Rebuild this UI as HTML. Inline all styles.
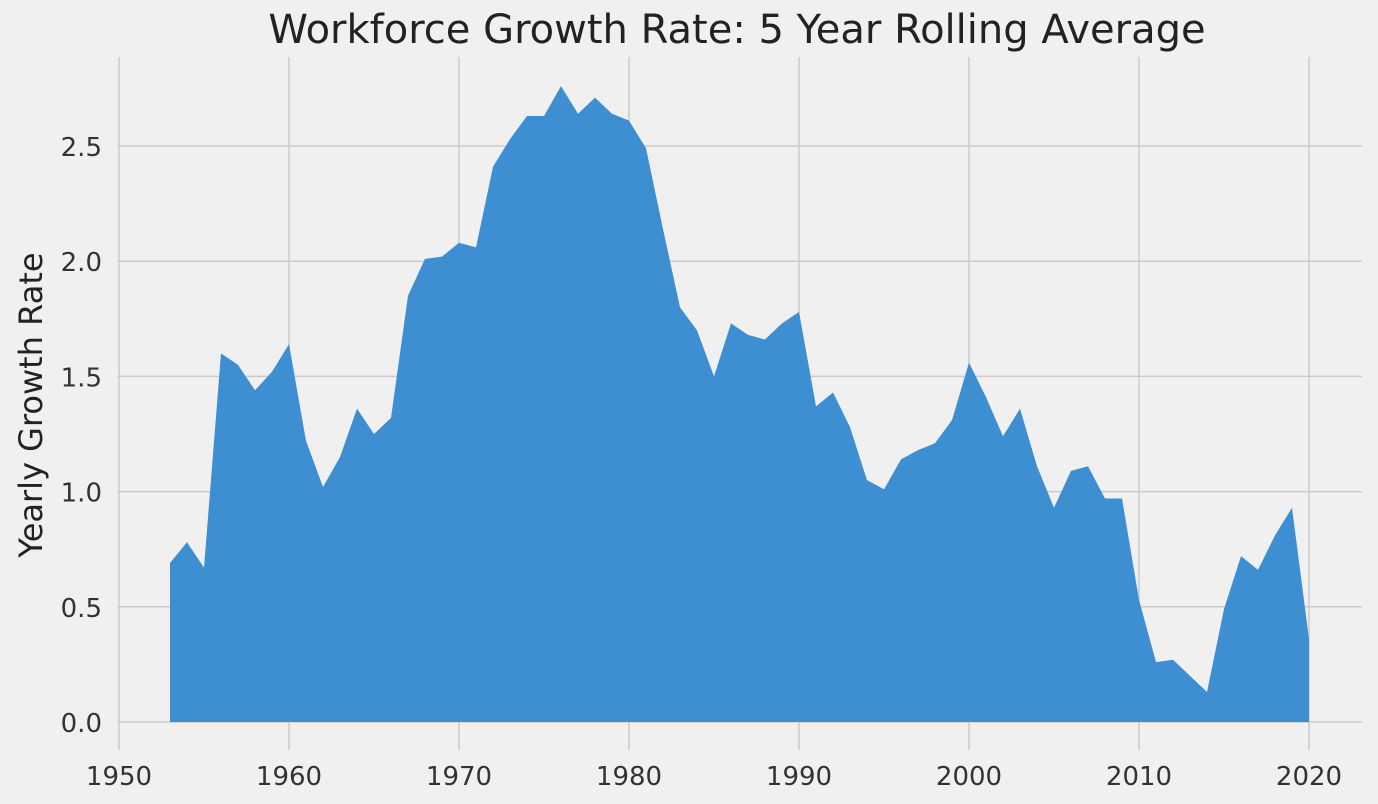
<!DOCTYPE html>
<html><head><meta charset="utf-8"><style>
html,body{margin:0;padding:0;background:#f0f0f0;}
svg{display:block;font-family:"DejaVu Sans","Liberation Sans",sans-serif;}
</style></head><body>
<svg id="chart" width="1378" height="804" viewBox="0 0 1378 804">
<rect width="1378" height="804" fill="#f0f0f0"/>
<g id="grid"></g>
<g id="area"></g>
<g id="xticks"></g>
<g id="yticks"></g>
<text x="737" y="43" text-anchor="middle" font-size="40" fill="#222">Workforce Growth Rate: 5 Year Rolling Average</text>
<text transform="translate(42,405) rotate(-90)" text-anchor="middle" font-size="32" fill="#222">Yearly Growth Rate</text>
</svg>
<script>
const years = [];
for (let y = 1953; y <= 2020; y++) years.push(y);
const values = [0.69,0.78,0.67,1.60,1.55,1.44,1.52,1.64,1.22,1.02,1.15,1.36,1.25,1.32,1.85,2.01,2.02,2.08,2.06,2.41,2.53,2.63,2.63,2.76,2.64,2.71,2.64,2.61,2.49,2.14,1.80,1.70,1.50,1.73,1.68,1.66,1.73,1.78,1.37,1.43,1.28,1.05,1.01,1.14,1.18,1.21,1.31,1.56,1.41,1.24,1.36,1.11,0.93,1.09,1.11,0.97,0.97,0.53,0.26,0.27,0.20,0.13,0.49,0.72,0.66,0.81,0.93,0.36];
const xTicks = [1950,1960,1970,1980,1990,2000,2010,2020];
const yTicks = [0.0,0.5,1.0,1.5,2.0,2.5];

const NS = "http://www.w3.org/2000/svg";
const X = v => 119 + (v - 1950) * (1309 - 119) / 70;
const Y = v => 722 - v * (722 - 146) / 2.5;
const L = 117, R = 1362, T = 57, B = 750;
function mk(tag, attrs, parent) {
  const e = document.createElementNS(NS, tag);
  for (const k in attrs) e.setAttribute(k, attrs[k]);
  parent.appendChild(e);
  return e;
}
const grid = document.getElementById('grid');
const xg = document.getElementById('xticks');
const yg = document.getElementById('yticks');
xTicks.forEach(t => {
  const l = mk('line', {x1: X(t), x2: X(t), y1: T, y2: B, stroke: '#cbcbcb', 'stroke-width': 1.5}, grid);
  
  
  const tx = mk('text', {x: X(t), y: 785, 'text-anchor': 'middle', 'font-size': 26, fill: '#333'}, xg);
  tx.textContent = t;
  
  
});
yTicks.forEach(t => {
  const l = mk('line', {x1: L, x2: R, y1: Y(t), y2: Y(t), stroke: '#cbcbcb', 'stroke-width': 1.5}, grid);
  
  
  const tx = mk('text', {x: 102, y: Y(t) + 10, 'text-anchor': 'end', 'font-size': 26, fill: '#333'}, yg);
  tx.textContent = t.toFixed(1);
  
  
});
let d = 'M' + X(years[0]) + ',' + Y(0);
years.forEach((yr, i) => { d += ' L' + X(yr) + ',' + Y(values[i]); });
d += ' L' + X(years[years.length - 1]) + ',' + Y(0) + ' Z';
const p = mk('path', {d: d, fill: '#3d8fd1'}, document.getElementById('area'));


</script>
</body></html>
